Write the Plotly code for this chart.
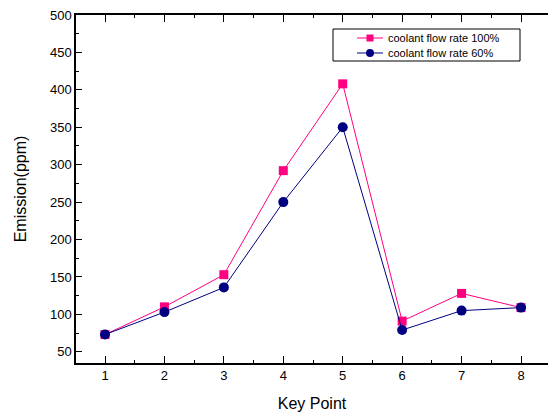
import plotly.graph_objects as go

key_points = [1, 2, 3, 4, 5, 6, 7, 8]
flow_100 = [73, 110, 153, 292, 408, 91, 128, 109]
flow_60 = [73, 103, 136, 250, 350, 79, 105, 109]
series_names = ["coolant flow rate 100%", "coolant flow rate 60%"]
series_colors = ["#FF0080", "#000080"]

W, H = 549, 414
ML, MR, MT, MB = 76, 1, 15, 51

fig = go.Figure()
fig.add_trace(go.Scatter(
    x=key_points, y=flow_100, mode="lines+markers", name=series_names[0],
    line=dict(color=series_colors[0], width=1),
    marker=dict(symbol="square", size=9, color=series_colors[0]),
))
fig.add_trace(go.Scatter(
    x=key_points, y=flow_60, mode="lines+markers", name=series_names[1],
    line=dict(color=series_colors[1], width=1),
    marker=dict(symbol="circle", size=10, color=series_colors[1]),
))

pw, ph = W - ML - MR, H - MT - MB
def px(x):
    return (x - ML) / pw
def py(y):
    return (H - MB - y) / ph

shapes = [dict(type="rect", xref="paper", yref="paper",
               x0=px(333), x1=px(520), y0=py(61), y1=py(29),
               line=dict(color="black", width=1), fillcolor="white", layer="above")]
annotations = []
rows_y = [38, 53]
for i, (nm, col) in enumerate(zip(series_names, series_colors)):
    yy = rows_y[i]
    shapes.append(dict(type="line", xref="paper", yref="paper",
                       x0=px(357), x1=px(383), y0=py(yy), y1=py(yy),
                       line=dict(color=col, width=1), layer="above"))
    if i == 0:
        shapes.append(dict(type="rect", xref="paper", yref="paper",
                           x0=px(366.5), x1=px(373.5), y0=py(yy + 3.5), y1=py(yy - 3.5),
                           line=dict(color=col, width=0), fillcolor=col, layer="above"))
    else:
        shapes.append(dict(type="circle", xref="paper", yref="paper",
                           x0=px(366), x1=px(374), y0=py(yy + 4), y1=py(yy - 4),
                           line=dict(color=col, width=0), fillcolor=col, layer="above"))
    annotations.append(dict(text=nm, xref="paper", yref="paper", x=px(386), y=py(yy),
                            xanchor="left", yanchor="middle", showarrow=False,
                            font=dict(size=11, color="black")))

font_family = "Liberation Sans, Arial, sans-serif"
fig.update_layout(
    width=W, height=H,
    margin=dict(l=ML, r=MR, t=MT, b=MB, autoexpand=False),
    paper_bgcolor="white", plot_bgcolor="white",
    font=dict(family=font_family, color="black", size=13),
    showlegend=False,
    shapes=shapes,
    annotations=annotations,
    xaxis=dict(
        range=[0.512, 8.471 - 1 / 59.43], tickmode="array", tickvals=key_points,
        ticks="inside", ticklen=7, tickwidth=1, tickcolor="black",
        showline=True, linecolor="black", linewidth=1.5, mirror="ticks",
        showgrid=False, zeroline=False, automargin=False,
        minor=dict(tickvals=[1.5, 2.5, 3.5, 4.5, 5.5, 6.5, 7.5], ticks="inside", ticklen=3,
                   tickcolor="black", showgrid=False),
        title=dict(text="Key Point", font=dict(size=16), standoff=15),
        tickfont=dict(size=13),
    ),
    yaxis=dict(
        range=[35, 500], tickmode="linear", tick0=50, dtick=50,
        ticks="inside", ticklen=6, tickwidth=1, tickcolor="black",
        showline=True, linecolor="black", linewidth=1.5, mirror=False,
        showgrid=False, zeroline=False, automargin=False,
        minor=dict(dtick=25, tick0=25, ticks="inside", ticklen=3, tickcolor="black", showgrid=False),
        title=dict(text="Emission(ppm)", font=dict(size=16), standoff=19),
        tickfont=dict(size=13),
    ),
)

fig.write_html("out.html")
